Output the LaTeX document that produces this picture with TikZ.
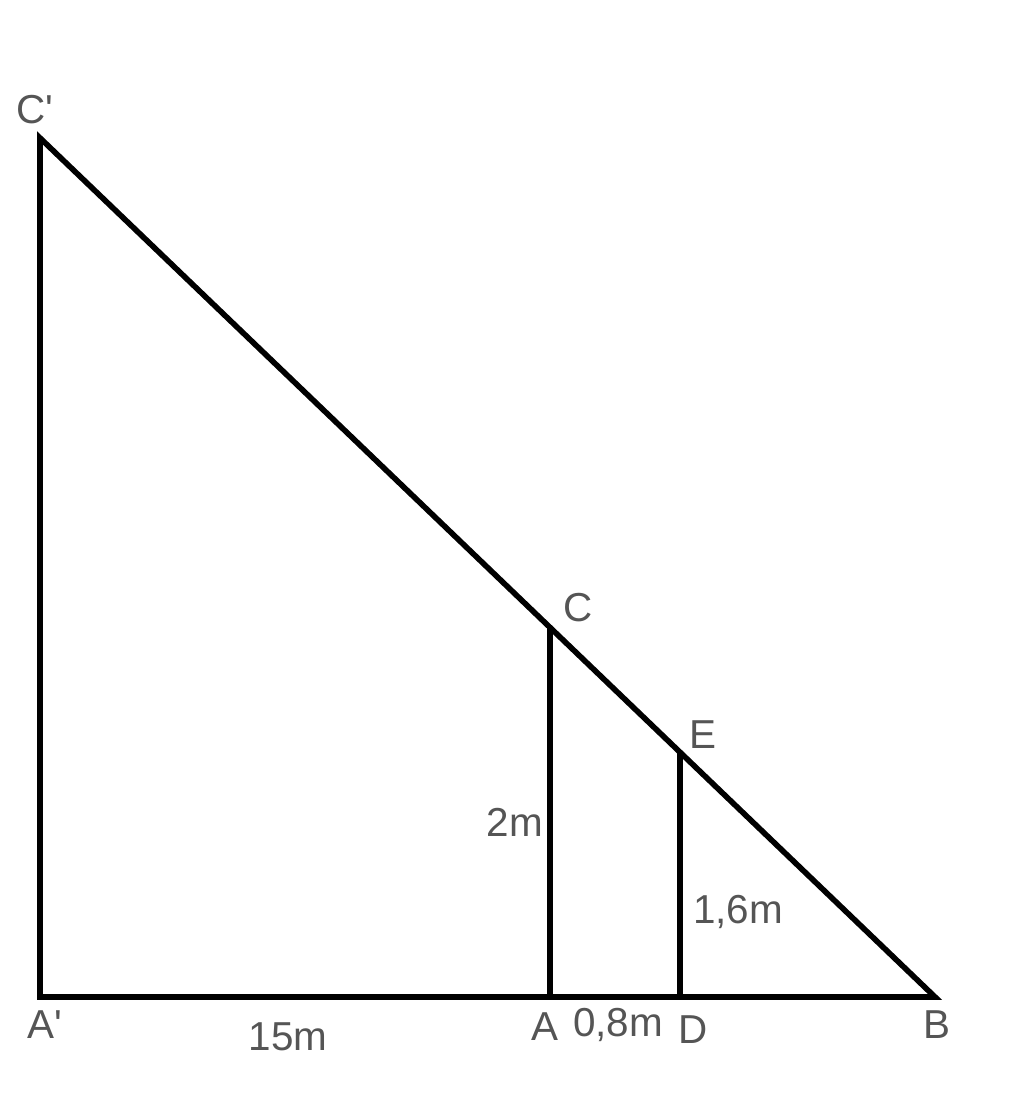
\documentclass[tikz,border=0pt]{standalone}
\usepackage{fontspec}
\setmainfont{Liberation Sans}
\usetikzlibrary{positioning, calc}
\usepackage{xcolor}
\definecolor{labelgray}{RGB}{85,85,85}

\begin{document}
\begin{tikzpicture}[every node/.style={text=labelgray, font=\fontsize{11.5}{13}\selectfont, inner sep=1pt}, edge/.style={line width=1.6pt, black, line cap=round, line join=miter}]
    \useasboundingbox (0,0) rectangle (10.24,11.18);

    \coordinate (Ap) at (0.40, 1.21);
    \coordinate (Cp) at (0.40, 9.80);
    \coordinate (B) at (9.35, 1.21);
    \coordinate (A) at (5.50, 1.21);
    \coordinate (C) at ($(Cp)!0.5698!(B)$);
    \coordinate (D) at (6.80, 1.21);
    \coordinate (E) at ($(Cp)!0.7151!(B)$);

    \draw[edge] (B) -- (Ap) -- (Cp) -- cycle;
    \draw[edge] (A) -- (C);
    \draw[edge] (D) -- (E);

    \node (labelCp) at (0.35, 10.08) {C\textquotesingle};
    \node (labelC) at (5.78, 5.10) {C};
    \node (labelE) at (7.03, 3.83) {E};
    \node (labelAp) at (0.45, 0.93) {A\textquotesingle};
    \node (labelA) at (5.45, 0.91) {A};
    \node (labelD) at (6.93, 0.88) {D};
    \node (labelB) at (9.37, 0.93) {B};

    \node (ac) at (5.15, 2.96) {2m};
    \node (de) at (7.38, 2.06) {1,6m};
    \node (apa) at (2.88, 0.81) {15m};
    \node (ad) at (6.18, 0.93) {0,8m};

\end{tikzpicture}
\end{document}
